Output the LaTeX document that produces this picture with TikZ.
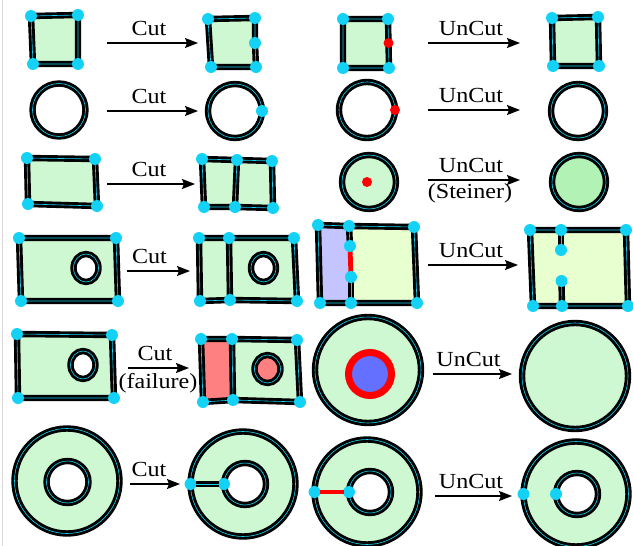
\documentclass[tikz,border=0pt]{standalone}
\usepackage{fontspec}
\newfontfamily\lblfont[FakeStretch=1.12]{Liberation Serif}
\usetikzlibrary{arrows.meta}
\definecolor{vcyan}{RGB}{20,210,245}
\definecolor{mint}{RGB}{205,248,210}
\definecolor{dgreen}{RGB}{178,242,180}
\definecolor{lav}{RGB}{196,196,255}
\definecolor{ygreen}{RGB}{232,255,208}
\definecolor{salmon}{RGB}{255,128,128}
\definecolor{bblue}{RGB}{100,112,255}
\definecolor{rred}{RGB}{255,0,0}
\pgfdeclarelayer{bg}
\pgfsetlayers{bg,main}
\begin{document}
\begin{tikzpicture}[x=1pt,y=-1pt,
  edge/.style={draw=black, double=vcyan, line width=2.9pt, double distance=0.6pt, line join=round},
  redge/.style={draw=rred, line width=4.8pt},
  vtx/.style={circle, fill=vcyan, inner sep=0pt, minimum size=12pt},
  rdot/.style={circle, fill=rred, inner sep=0pt, minimum size=10pt},
  arr/.style={-{Stealth[length=13pt,width=10pt,inset=2pt]}, line width=1.3pt},
  lbl/.style={font={\lblfont\fontsize{21.5}{21.5}\selectfont}, inner sep=0pt, anchor=base}]
\useasboundingbox (0,0) rectangle (633,546);
\draw[black!15, line width=1pt] (2.5,0) -- (2.5,546);

% ---------- Row 1 ----------
\node[vtx] (a1) at (31,16) {};
\node[vtx] (a2) at (78,15) {};
\node[vtx] (a3) at (78,64) {};
\node[vtx] (a4) at (33,64) {};
\node[vtx] (b1) at (208,19) {};
\node[vtx] (b2) at (255,18) {};
\node[vtx] (b5) at (255,43) {};
\node[vtx] (b3) at (256,67) {};
\node[vtx] (b4) at (211,67) {};
\node[vtx] (e1) at (343,19) {};
\node[vtx] (e2) at (388,19) {};
\node[rdot] (er) at (388.5,43) {};
\node[vtx] (e3) at (389,68) {};
\node[vtx] (e4) at (343,68) {};
\node[vtx] (f1) at (552,18) {};
\node[vtx] (f2) at (598,17) {};
\node[vtx] (f3) at (599,66) {};
\node[vtx] (f4) at (553,66) {};
\begin{pgfonlayer}{bg}
\draw[edge, fill=mint] (a1.center) -- (a2.center) -- (a3.center) -- (a4.center) -- cycle;
\draw[edge, fill=mint] (b1.center) -- (b2.center) -- (b5.center) -- (b3.center) -- (b4.center) -- cycle;
\draw[edge, fill=mint] (e1.center) -- (e2.center) -- (e3.center) -- (e4.center) -- cycle;
\draw[edge, fill=mint] (f1.center) -- (f2.center) -- (f3.center) -- (f4.center) -- cycle;
\end{pgfonlayer}
\coordinate (s1) at (107,43); \coordinate (t1) at (198,43);
\draw[arr] (s1) -- (t1);
\node[lbl] (l1) at (149,35) {Cut};
\coordinate (s2) at (428,43); \coordinate (t2) at (520,43);
\draw[arr] (s2) -- (t2);
\node[lbl] (l2) at (471,35) {UnCut};

% ---------- Row 2 ----------
\draw[edge] (59,110) circle (26.5pt);
\draw[edge] (235,111) circle (27pt);
\node[vtx] (bd) at (262,111) {};
\draw[edge] (367,110) circle (28pt);
\node[rdot] (ed) at (395,110) {};
\draw[edge] (578,111) circle (27pt);
\coordinate (s3) at (107,111); \coordinate (t3) at (198,111);
\draw[arr] (s3) -- (t3);
\node[lbl] (l3) at (149,103) {Cut};
\coordinate (s4) at (428,110); \coordinate (t4) at (520,110);
\draw[arr] (s4) -- (t4);
\node[lbl] (l4) at (471,102) {UnCut};

% ---------- Row 3 ----------
\node[vtx] (c1) at (27,158) {};
\node[vtx] (c2) at (95,159) {};
\node[vtx] (c3) at (97,206) {};
\node[vtx] (c4) at (28,204) {};
\node[vtx] (d1) at (202,159) {};
\node[vtx] (d2) at (237,160) {};
\node[vtx] (d3) at (272,161) {};
\node[vtx] (d4) at (273,208) {};
\node[vtx] (d5) at (235,207) {};
\node[vtx] (d6) at (204,207) {};
\begin{pgfonlayer}{bg}
\draw[edge, fill=mint] (c1.center) -- (c2.center) -- (c3.center) -- (c4.center) -- cycle;
\draw[edge, fill=mint] (d1.center) -- (d2.center) -- (d3.center) -- (d4.center) -- (d5.center) -- (d6.center) -- cycle;
\draw[edge] (d2.center) -- (d5.center);
\end{pgfonlayer}
\draw[edge, fill=mint] (369,182) circle (27pt);
\node[rdot] (gd) at (367,182) {};
\draw[edge, fill=dgreen] (579,182) circle (27pt);
\coordinate (s5) at (107,184); \coordinate (t5) at (195,184);
\draw[arr] (s5) -- (t5);
\node[lbl] (l5) at (149,176) {Cut};
\coordinate (s6) at (428,180); \coordinate (t6) at (520,180);
\draw[arr] (s6) -- (t6);
\node[lbl] (l6) at (471,172) {UnCut};
\node[lbl] (l6b) at (470,198) {(Steiner)};

% ---------- Row 4 ----------
\node[vtx] (g1) at (19,238) {};
\node[vtx] (g2) at (116,238) {};
\node[vtx] (g3) at (118,301) {};
\node[vtx] (g4) at (21,301) {};
\node[vtx] (h1) at (199,238) {};
\node[vtx] (h2) at (229,238) {};
\node[vtx] (h3) at (294,238) {};
\node[vtx] (h4) at (297,301) {};
\node[vtx] (h5) at (230,300) {};
\node[vtx] (h6) at (200,301) {};
\node[vtx] (i1) at (318,225) {};
\node[vtx] (i2) at (349,226) {};
\node[vtx] (i3) at (414,227) {};
\node[vtx] (i4) at (417,303) {};
\node[vtx] (i5) at (351,303) {};
\node[vtx] (i6) at (320,303) {};
\node[vtx] (i7) at (350,246) {};
\node[vtx] (i8) at (351,277) {};
\node[vtx] (j1) at (530,230) {};
\node[vtx] (j2) at (561,230) {};
\node[vtx] (j3) at (626,230) {};
\node[vtx] (j4) at (628,306) {};
\node[vtx] (j5) at (562,306) {};
\node[vtx] (j6) at (533,306) {};
\node[vtx] (j7) at (561,250) {};
\node[vtx] (j8) at (561.5,281) {};
\begin{pgfonlayer}{bg}
\draw[edge, fill=mint, even odd rule] (g1.center) -- (g2.center) -- (g3.center) -- (g4.center) -- cycle
  (86,268) ellipse [x radius=12.5pt, y radius=14pt];
\draw[edge, fill=mint, even odd rule] (h1.center) -- (h2.center) -- (h3.center) -- (h4.center) -- (h5.center) -- (h6.center) -- cycle
  (263.5,268) ellipse [x radius=12.5pt, y radius=14pt];
\draw[edge] (h2.center) -- (h5.center);
\fill[lav] (i1.center) -- (i2.center) -- (i5.center) -- (i6.center) -- cycle;
\fill[ygreen] (i2.center) -- (i3.center) -- (i4.center) -- (i5.center) -- cycle;
\draw[edge] (i1.center) -- (i2.center) -- (i3.center) -- (i4.center) -- (i5.center) -- (i6.center) -- cycle;
\draw[edge] (i2.center) -- (i7.center);
\draw[edge] (i8.center) -- (i5.center);
\draw[redge] (i7.center) -- (i8.center);
\draw[edge, fill=ygreen] (j1.center) -- (j2.center) -- (j3.center) -- (j4.center) -- (j5.center) -- (j6.center) -- cycle;
\draw[edge] (j2.center) -- (j7.center);
\draw[edge] (j8.center) -- (j5.center);
\end{pgfonlayer}
\coordinate (s7) at (127,271); \coordinate (t7) at (190,271);
\draw[arr] (s7) -- (t7);
\node[lbl] (l7) at (149.5,263) {Cut};
\coordinate (s8) at (428,265); \coordinate (t8) at (518,265);
\draw[arr] (s8) -- (t8);
\node[lbl] (l8) at (471,257) {UnCut};

% ---------- Row 5 ----------
\node[vtx] (k1) at (17,334) {};
\node[vtx] (k2) at (112,335) {};
\node[vtx] (k3) at (114,398) {};
\node[vtx] (k4) at (18,398) {};
\node[vtx] (m1) at (201,339) {};
\node[vtx] (m2) at (232,339) {};
\node[vtx] (m3) at (297,340) {};
\node[vtx] (m4) at (300,402) {};
\node[vtx] (m5) at (233,400) {};
\node[vtx] (m6) at (203,402) {};
\begin{pgfonlayer}{bg}
\draw[edge, fill=mint, even odd rule] (k1.center) -- (k2.center) -- (k3.center) -- (k4.center) -- cycle
  (83,365) ellipse [x radius=12.5pt, y radius=14pt];
\fill[salmon] (m1.center) -- (m2.center) -- (m5.center) -- (m6.center) -- cycle;
\fill[mint] (m2.center) -- (m3.center) -- (m4.center) -- (m5.center) -- cycle;
\draw[edge] (m1.center) -- (m2.center) -- (m3.center) -- (m4.center) -- (m5.center) -- (m6.center) -- cycle;
\draw[edge] (m2.center) -- (m5.center);
\draw[edge, fill=salmon] (267.5,369) ellipse [x radius=13pt, y radius=14pt];
\end{pgfonlayer}
\draw[edge, fill=mint] (368,370) circle (53pt);
\draw[draw=rred, line width=7pt, fill=bblue] (370,374) circle (21.5pt);
\draw[edge, fill=mint] (575,376) circle (53pt);
\coordinate (s9) at (128,368); \coordinate (t9) at (189,368);
\draw[arr] (s9) -- (t9);
\node[lbl] (l9) at (155,360) {Cut};
\node[lbl] (l9b) at (158,388) {(failure)};
\coordinate (s10) at (433,374); \coordinate (t10) at (512,374);
\draw[arr] (s10) -- (t10);
\node[lbl] (l10) at (468.5,366) {UnCut};

% ---------- Row 6 ----------
\draw[edge, fill=mint, even odd rule] (67,481) circle (52.5pt) (67.5,482) circle (21pt);
\draw[edge, fill=mint, even odd rule] (243,484) circle (52.5pt) (245,484) circle (21pt);
\draw[edge, fill=mint, even odd rule] (367,492) circle (52.5pt) (370,492) circle (21pt);
\draw[edge, fill=mint, even odd rule] (576,494) circle (52.5pt) (577,494) circle (21pt);
\node[vtx] (n1) at (190.5,484) {};
\node[vtx] (n2) at (224,484) {};
\node[vtx] (o1) at (314.5,492) {};
\node[vtx] (o2) at (349,492) {};
\node[vtx] (p1) at (523.5,494) {};
\node[vtx] (p2) at (556,494) {};
\draw[edge, shorten <=5pt, shorten >=5pt] (n1.center) -- (n2.center);
\draw[redge, shorten <=5pt, shorten >=5pt] (o1.center) -- (o2.center);
\coordinate (s11) at (130,484); \coordinate (t11) at (180,484);
\draw[arr] (s11) -- (t11);
\node[lbl] (l11) at (149,476) {Cut};
\coordinate (s12) at (435,496); \coordinate (t12) at (512,496);
\draw[arr] (s12) -- (t12);
\node[lbl] (l12) at (471,488) {UnCut};
\end{tikzpicture}
\end{document}
